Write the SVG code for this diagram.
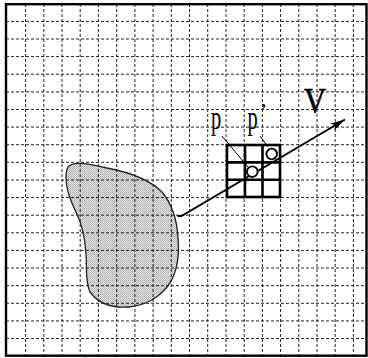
<svg xmlns="http://www.w3.org/2000/svg" width="368" height="358" viewBox="0 0 368 358">
<style>
.grid line{stroke:#222;stroke-width:1;stroke-dasharray:3 2}
.thick{stroke:#000;stroke-width:2.6;fill:none}
.lbl{font-family:"Liberation Serif","DejaVu Serif",serif;fill:#000}
.lead{stroke:#000;stroke-width:1;fill:none}
</style>
<defs>
<pattern id="stip" width="2" height="2" patternUnits="userSpaceOnUse">
<rect width="2" height="2" fill="#e4e4e4"/>
<rect width="1" height="1" fill="#a8a8a8"/>
<rect x="1" y="1" width="1" height="1" fill="#bcbcbc"/>
</pattern>
<marker id="ah" markerWidth="16" markerHeight="10" refX="15" refY="5" orient="auto" markerUnits="userSpaceOnUse">
<path d="M0,1 L15,5 L0,9 L4,5 Z" fill="#000"/>
</marker>
</defs>
<rect width="368" height="358" fill="#fff"/>
<g id="blob">
<path d="M68,167 C72,162 82,162 107,168 C128,172 150,180 162,192 C172,204 177,218 178,238 C180,258 176,276 167,287 C158,298 144,306 128,307 C112,308 98,303 90,292 C85,282 87,266 86,254 C85,238 82,224 76,212 C70,200 66,188 66,178 C66,173 66,170 68,167 Z" fill="url(#stip)" stroke="#222" stroke-width="1.3"/>
</g>
<g class="grid" id="grid">
<line x1="25.6" y1="4" x2="25.6" y2="356"/>
<line x1="43.8" y1="4" x2="43.8" y2="356"/>
<line x1="62" y1="4" x2="62" y2="356"/>
<line x1="80.2" y1="4" x2="80.2" y2="356"/>
<line x1="98.4" y1="4" x2="98.4" y2="356"/>
<line x1="116.7" y1="4" x2="116.7" y2="356"/>
<line x1="134.9" y1="4" x2="134.9" y2="356"/>
<line x1="153.1" y1="4" x2="153.1" y2="356"/>
<line x1="171.3" y1="4" x2="171.3" y2="356"/>
<line x1="189.5" y1="4" x2="189.5" y2="356"/>
<line x1="207.7" y1="4" x2="207.7" y2="356"/>
<line x1="226" y1="4" x2="226" y2="356"/>
<line x1="244.2" y1="4" x2="244.2" y2="356"/>
<line x1="262.4" y1="4" x2="262.4" y2="356"/>
<line x1="280.6" y1="4" x2="280.6" y2="356"/>
<line x1="298.8" y1="4" x2="298.8" y2="356"/>
<line x1="317" y1="4" x2="317" y2="356"/>
<line x1="335.2" y1="4" x2="335.2" y2="356"/>
<line x1="353.4" y1="4" x2="353.4" y2="356"/>
<line x1="6" y1="21.4" x2="367" y2="21.4"/>
<line x1="6" y1="39" x2="367" y2="39"/>
<line x1="6" y1="56.6" x2="367" y2="56.6"/>
<line x1="6" y1="74.2" x2="367" y2="74.2"/>
<line x1="6" y1="91.9" x2="367" y2="91.9"/>
<line x1="6" y1="109.5" x2="367" y2="109.5"/>
<line x1="6" y1="127.1" x2="367" y2="127.1"/>
<line x1="6" y1="144.7" x2="367" y2="144.7"/>
<line x1="6" y1="162.3" x2="367" y2="162.3"/>
<line x1="6" y1="180" x2="367" y2="180"/>
<line x1="6" y1="197.6" x2="367" y2="197.6"/>
<line x1="6" y1="215.2" x2="367" y2="215.2"/>
<line x1="6" y1="232.8" x2="367" y2="232.8"/>
<line x1="6" y1="250.4" x2="367" y2="250.4"/>
<line x1="6" y1="268" x2="367" y2="268"/>
<line x1="6" y1="285.7" x2="367" y2="285.7"/>
<line x1="6" y1="303.3" x2="367" y2="303.3"/>
<line x1="6" y1="320.9" x2="367" y2="320.9"/>
<line x1="6" y1="338.5" x2="367" y2="338.5"/>
</g>
<g id="frame">
<rect x="6" y="4.2" width="360.5" height="351.5" fill="none" stroke="#000" stroke-width="2.4"/>
</g>
<g id="window">
<rect class="thick" x="227" y="145" width="53" height="52"/>
<line class="thick" x1="245" y1="145" x2="245" y2="197" stroke-width="2"/>
<line class="thick" x1="262.5" y1="145" x2="262.5" y2="197" stroke-width="2"/>
<line class="thick" x1="227" y1="162.4" x2="280" y2="162.4" stroke-width="2"/>
<line class="thick" x1="227" y1="179.8" x2="280" y2="179.8" stroke-width="2"/>
</g>
<g id="connectors">
<path d="M177.5,216 L181.5,216 L345,119.5" stroke="#000" stroke-width="2" fill="none" marker-end="url(#ah)"/>
<line class="lead" x1="222" y1="136" x2="248" y2="167"/>
<line class="lead" x1="260" y1="136" x2="268" y2="147"/>
</g>
<g id="p1">
<circle cx="252.3" cy="171.7" r="5.3" fill="#fff" stroke="#000" stroke-width="1.8"/>
</g>
<g id="p2">
<circle cx="271.7" cy="154" r="5.3" fill="#fff" stroke="#000" stroke-width="1.8"/>
</g>
<g id="labels">
<text class="lbl" transform="translate(211,129) scale(0.62,1)" font-size="33">p</text>
<text class="lbl" transform="translate(247.5,129) scale(0.62,1)" font-size="33">p</text>
<text class="lbl" x="261" y="115" font-size="16" font-weight="bold">’</text>
<text class="lbl" x="304" y="113" font-size="35" textLength="22" lengthAdjust="spacingAndGlyphs" stroke="#000" stroke-width="0.6">V</text>
</g>
</svg>
